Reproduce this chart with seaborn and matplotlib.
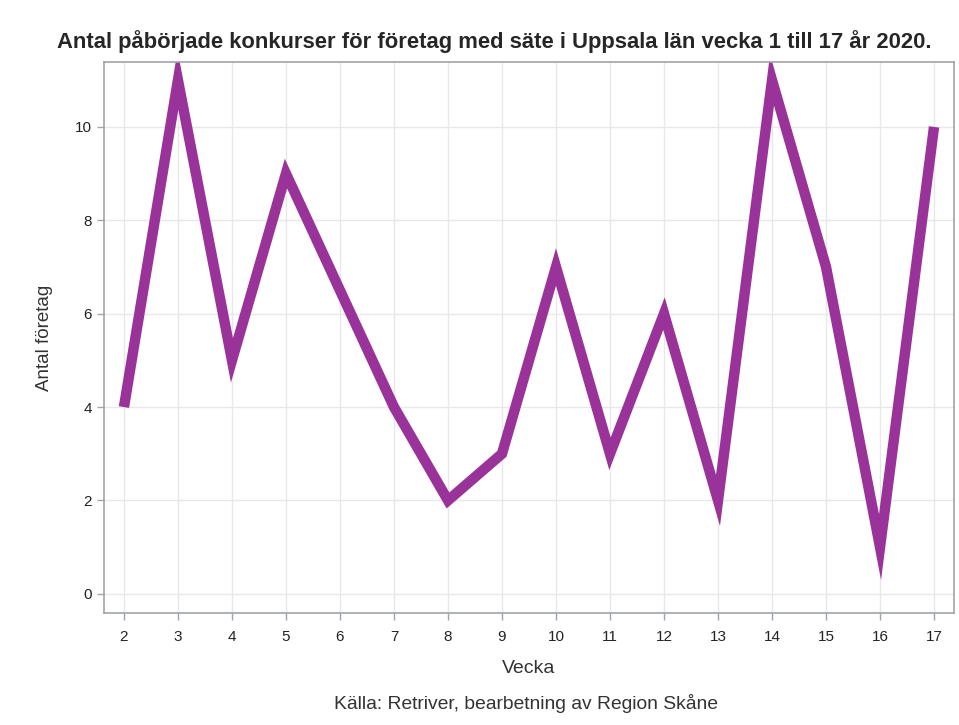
import pandas as pd
import seaborn as sns
import matplotlib
matplotlib.use('Agg')
import matplotlib.pyplot as plt

# Data
weeks = [2, 3, 4, 5, 6, 7, 8, 9, 10, 11, 12, 13, 14, 15, 16, 17]
antal = [4, 11, 5, 9, 6.5, 4, 2, 3, 7, 3, 6, 2, 11, 7, 1, 10]

title = 'Antal påbörjade konkurser för företag med säte i Uppsala län vecka 1 till 17 år 2020.'
source = 'Källa: Retriver, bearbetning av Region Skåne'

df = pd.DataFrame({'Vecka': weeks, 'Antal': antal})

sns.set_style('whitegrid')
plt.rcParams['font.family'] = ['Liberation Sans', 'DejaVu Sans']

fig = plt.figure(figsize=(9.59, 7.25), dpi=100)
ax = fig.add_axes([0.1084, 0.1545, 0.8864, 0.76])

sns.lineplot(data=df, x='Vecka', y='Antal', ax=ax, color='#993399', linewidth=7.5)
ax.lines[0].set_solid_joinstyle('miter')
ax.lines[0].set_solid_capstyle('butt')

ax.set_xlim(1.63, 17.37)
ax.set_ylim(-0.41, 11.39)
ax.set_xticks(weeks)
ax.set_yticks([0, 2, 4, 6, 8, 10])
ax.grid(True, color='#e8e8e8', linewidth=1)
for s in ax.spines.values():
    s.set_color('#a0a4a8')
    s.set_linewidth(1.2)
ax.tick_params(axis='both', which='both', direction='out', length=5, width=1,
               color='#a0a4a8', labelsize=11, labelcolor='#222222', bottom=True, left=True)
ax.tick_params(axis='x', pad=7)
ax.set_xlabel('Vecka', fontsize=14, color='#333333', labelpad=12)
ax.set_ylabel('Antal företag', fontsize=13.5, color='#333333', labelpad=16)

fig.suptitle(title, x=0.515, y=0.958, fontsize=15.8, fontweight='bold')
fig.text(0.548, 0.03, source, ha='center', va='center', fontsize=13.9, color='#333333')

fig.savefig('out.png', dpi=100)
